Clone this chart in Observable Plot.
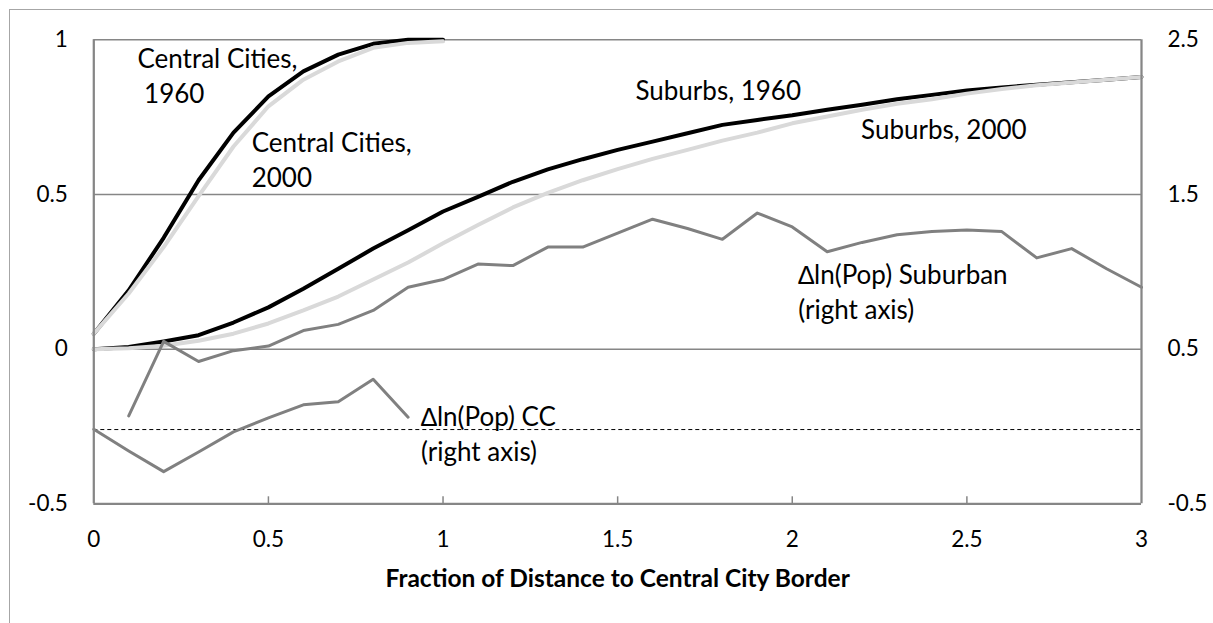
<!DOCTYPE html>
<html><head><meta charset="utf-8">
<script src="https://cdn.jsdelivr.net/npm/d3@7"></script>
<script src="https://cdn.jsdelivr.net/npm/@observablehq/plot@0.6"></script>
<style>
body{margin:0;background:#fff;}
#wrap{position:relative;width:1213px;height:623px;overflow:hidden;background:#fff;}
#border{position:absolute;left:9px;top:9px;width:1400px;height:800px;border-left:1.5px solid #a6a6a6;border-top:1.5px solid #a6a6a6;}
#chart{position:absolute;left:0;top:0;}
</style></head><body>
<div id="wrap"><div id="border"></div><div id="chart"></div></div>
<script>
// x positions (fraction of distance to central city border)
const ccDist = [0,0.1,0.2,0.3,0.4,0.5,0.6,0.7,0.8,0.9,1.0];
const subDist = [0,0.1,0.2,0.3,0.4,0.5,0.6,0.7,0.8,0.9,1.0,1.1,1.2,1.3,1.4,1.5,1.6,1.7,1.8,1.9,2.0,2.1,2.2,2.3,2.4,2.5,2.6,2.7,2.8,2.9,3.0];
const dSubDist = [0.1,0.2,0.3,0.4,0.5,0.6,0.7,0.8,0.9,1.0,1.1,1.2,1.3,1.4,1.5,1.6,1.7,1.8,1.9,2.0,2.1,2.2,2.3,2.4,2.5,2.6,2.7,2.8,2.9,3.0];
const dCCDist = [0,0.1,0.2,0.3,0.4,0.5,0.6,0.7,0.8,0.9];

// cumulative shares (left axis)
const cc1960 = [0.05,0.19,0.36,0.546,0.70,0.817,0.898,0.952,0.987,1.0,1.0];
const cc2000 = [0.05,0.18,0.33,0.495,0.655,0.785,0.871,0.93,0.974,0.99,0.995];
const sub1960 = [0,0.007,0.025,0.045,0.086,0.135,0.195,0.26,0.325,0.384,0.445,0.492,0.541,0.581,0.614,0.644,0.671,0.698,0.725,0.741,0.756,0.774,0.79,0.808,0.822,0.836,0.846,0.855,0.863,0.871,0.88];
const sub2000 = [0,0.003,0.011,0.027,0.05,0.083,0.125,0.17,0.225,0.28,0.342,0.401,0.458,0.505,0.546,0.582,0.615,0.644,0.674,0.70,0.73,0.752,0.774,0.793,0.808,0.826,0.841,0.853,0.862,0.871,0.88];

// change in ln(pop) (right axis units)
const dlnSub = [0.068,0.55,0.42,0.49,0.52,0.62,0.66,0.75,0.90,0.95,1.05,1.04,1.16,1.16,1.25,1.34,1.28,1.21,1.38,1.29,1.13,1.19,1.24,1.26,1.27,1.26,1.09,1.15,1.02,0.90];
const dlnCC = [-0.018,-0.158,-0.292,-0.165,-0.035,0.056,0.14,0.16,0.305,0.06];
const zeroRef = [-0.02]; // dashed reference (right axis)

// ticks
const xTicks = [0,0.5,1,1.5,2,2.5,3];
const leftTicks = [-0.5,0,0.5,1];
const rightTicks = [-0.5,0.5,1.5,2.5];
const xTitle = "Fraction of Distance to Central City Border";

// annotations
const labelText = ["Central Cities,\n\u00a01960","Central Cities,\n2000","Suburbs, 1960","Suburbs, 2000","\u2206ln(Pop) Suburban\n(right axis)","\u2206ln(Pop) CC\n(right axis)"];
const labelX = [0.125,0.452,1.551,2.197,2.017,0.937];
const labelY = [0.992,0.720,0.886,0.762,0.293,-0.166];

const toLeft = r => (r - 0.5) / 2;
const toRight = v => 2 * v + 0.5;

const rows = (xs, ys, f = d => d) => xs.map((x, i) => ({x, v: f(ys[i])}));
const labels = labelText.map((t, i) => ({t, x: labelX[i], y: labelY[i]}));

const chart = Plot.plot({
  width: 1213, height: 623,
  marginLeft: 93.3, marginRight: 72, marginTop: 39.3, marginBottom: 119.7,
  x: {domain: [0, 3], axis: null},
  y: {domain: [-0.5, 1], axis: null},
  style: {fontFamily: "Lato, sans-serif", background: "transparent", color: "black", overflow: "visible"},
  marks: [
    Plot.ruleY(leftTicks.filter(d => d > -0.5), {stroke: "#868686", strokeWidth: 1.5}),
    Plot.ruleY(zeroRef.map(toLeft), {stroke: "black", strokeWidth: 1, strokeDasharray: "4,3"}),
    Plot.line(rows(ccDist, cc1960), {x: "x", y: "v", stroke: "black", strokeWidth: 4, strokeLinejoin: "round"}),
    Plot.line(rows(subDist, sub1960), {x: "x", y: "v", stroke: "black", strokeWidth: 4, strokeLinejoin: "round"}),
    Plot.line(rows(ccDist, cc2000), {x: "x", y: "v", stroke: "#d9d9d9", strokeWidth: 4, strokeLinejoin: "round"}),
    Plot.line(rows(subDist, sub2000), {x: "x", y: "v", stroke: "#d9d9d9", strokeWidth: 4, strokeLinejoin: "round"}),
    Plot.line(rows(dSubDist, dlnSub, toLeft), {x: "x", y: "v", stroke: "#808080", strokeWidth: 3}),
    Plot.line(rows(dCCDist, dlnCC, toLeft), {x: "x", y: "v", stroke: "#808080", strokeWidth: 3}),
    Plot.ruleY([-0.5], {stroke: "#868686", strokeWidth: 2.25}),
    Plot.ruleX([0, 3], {stroke: "#868686", strokeWidth: 2.25}),
    Plot.ruleX(xTicks.filter(d => d > 0 && d < 3), {y1: -0.5, y2: -0.5, insetTop: -7, stroke: "#868686", strokeWidth: 1.5}),
    Plot.axisX({ticks: xTicks, label: null, tickSize: 0, tickPadding: 27, fontSize: 22.5, tickFormat: d => String(d)}),
    Plot.axisY({ticks: leftTicks, label: null, anchor: "left", tickSize: 0, tickPadding: 26, fontSize: 22.5, tickFormat: d => String(d)}),
    Plot.axisY({ticks: rightTicks.map(toLeft), label: null, anchor: "right", tickSize: 0, tickPadding: 26, fontSize: 22.5, tickFormat: v => String(toRight(v))}),
    Plot.text(labels, {x: "x", y: "y", text: "t", textAnchor: "start", lineAnchor: "top", fontSize: 26, lineHeight: 1.37, fill: "black"}),
    Plot.text([xTitle], {frameAnchor: "bottom", text: d => d, lineAnchor: "middle", dy: 75, fontWeight: "bold", fontSize: 24.5, fill: "black"})
  ]
});
document.getElementById("chart").appendChild(chart);
</script>
</body></html>
